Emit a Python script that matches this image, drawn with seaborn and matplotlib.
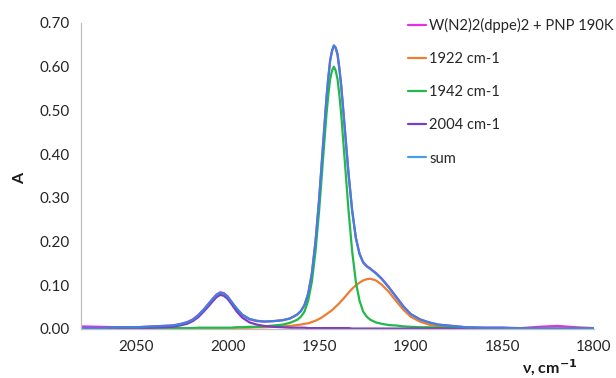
import matplotlib
matplotlib.use("Agg")
import matplotlib.pyplot as plt
import seaborn as sns
import pandas as pd

# wavenumber grid (cm-1)
wavenumber = [2080, 2070, 2060, 2050, 2040, 2035, 2030, 2026, 2022, 2019,
              2016, 2013, 2010, 2008, 2006, 2004, 2002, 2000, 1998, 1995,
              1992, 1988, 1984, 1980, 1975, 1970, 1966, 1962, 1960, 1958,
              1956, 1954, 1952, 1950, 1948, 1947, 1946, 1945, 1944, 1943,
              1942, 1941, 1940, 1939, 1938, 1937, 1936, 1934, 1932, 1930,
              1928, 1926, 1924, 1922, 1919, 1916, 1912, 1908, 1904, 1900,
              1895, 1890, 1885, 1880, 1870, 1860, 1850, 1840, 1830, 1820,
              1810, 1800]

measured = [0.006, 0.005, 0.004, 0.004, 0.006, 0.007, 0.008, 0.011, 0.016, 0.022,
            0.032, 0.045, 0.060, 0.070, 0.079, 0.084, 0.082, 0.075, 0.063, 0.046,
            0.032, 0.022, 0.018, 0.017, 0.018, 0.020, 0.024, 0.033, 0.041, 0.055,
            0.081, 0.127, 0.201, 0.299, 0.415, 0.472, 0.530, 0.576, 0.615, 0.636,
            0.647, 0.643, 0.628, 0.596, 0.557, 0.507, 0.457, 0.356, 0.271, 0.209,
            0.172, 0.153, 0.144, 0.138, 0.128, 0.116, 0.096, 0.074, 0.052, 0.034,
            0.022, 0.015, 0.010, 0.008, 0.004, 0.003, 0.003, 0.002, 0.005, 0.007,
            0.004, 0.002]

peak_1922 = [0.000, 0.000, 0.001, 0.001, 0.001, 0.001, 0.001, 0.001, 0.001, 0.001,
             0.001, 0.001, 0.002, 0.002, 0.002, 0.002, 0.002, 0.002, 0.002, 0.003,
             0.003, 0.003, 0.004, 0.004, 0.005, 0.006, 0.007, 0.009, 0.010, 0.012,
             0.013, 0.016, 0.019, 0.023, 0.028, 0.031, 0.034, 0.037, 0.040, 0.043,
             0.047, 0.051, 0.055, 0.059, 0.064, 0.068, 0.073, 0.083, 0.092, 0.100,
             0.106, 0.111, 0.114, 0.115, 0.111, 0.102, 0.085, 0.064, 0.044, 0.028,
             0.017, 0.010, 0.006, 0.004, 0.002, 0.001, 0.001, 0.000, 0.000, 0.000,
             0.000, 0.000]

peak_1942 = [0.001, 0.001, 0.001, 0.001, 0.002, 0.002, 0.002, 0.002, 0.002, 0.002,
             0.003, 0.003, 0.003, 0.003, 0.003, 0.003, 0.003, 0.003, 0.003, 0.004,
             0.004, 0.005, 0.005, 0.006, 0.008, 0.010, 0.014, 0.021, 0.028, 0.040,
             0.065, 0.108, 0.178, 0.272, 0.383, 0.438, 0.492, 0.536, 0.572, 0.591,
             0.600, 0.591, 0.572, 0.536, 0.492, 0.438, 0.383, 0.272, 0.178, 0.108,
             0.065, 0.040, 0.028, 0.021, 0.015, 0.012, 0.009, 0.008, 0.006, 0.005,
             0.004, 0.004, 0.003, 0.003, 0.002, 0.002, 0.002, 0.001, 0.001, 0.001,
             0.001, 0.001]

peak_2004 = [0.001, 0.001, 0.002, 0.002, 0.003, 0.004, 0.005, 0.008, 0.012, 0.018,
             0.027, 0.040, 0.054, 0.064, 0.073, 0.078, 0.076, 0.069, 0.058, 0.040,
             0.026, 0.015, 0.010, 0.007, 0.005, 0.004, 0.003, 0.003, 0.003, 0.003,
             0.002, 0.002, 0.002, 0.002, 0.002, 0.002, 0.002, 0.002, 0.002, 0.002,
             0.002, 0.002, 0.002, 0.002, 0.002, 0.002, 0.002, 0.002, 0.001, 0.001,
             0.001, 0.001, 0.001, 0.001, 0.001, 0.001, 0.001, 0.001, 0.001, 0.001,
             0.001, 0.001, 0.001, 0.001, 0.000, 0.000, 0.000, 0.000, 0.000, 0.000,
             0.000, 0.000]

series_names = ["W(N2)2(dppe)2 + PNP 190K", "1922 cm-1", "1942 cm-1", "2004 cm-1", "sum"]
series_colors = ["#E62EE6", "#ED7D31", "#22B84A", "#7A3CC0", "#3E82DA"]
legend_colors = ["#E62EE6", "#ED7D31", "#22B84A", "#7A3CC0", "#4A9EE6"]
x_ticks = [2050, 2000, 1950, 1900, 1850, 1800]
y_ticks = [0.0, 0.1, 0.2, 0.3, 0.4, 0.5, 0.6, 0.7]

total = [a + b + c for a, b, c in zip(peak_1922, peak_1942, peak_2004)]

frames = []
for name, vals in zip(series_names, [measured, peak_1922, peak_1942, peak_2004, total]):
    frames.append(pd.DataFrame({"wn": wavenumber, "A": vals, "series": name}))
df = pd.concat(frames, ignore_index=True)

sns.set_style("white")
plt.rcParams["font.family"] = ["Lato", "DejaVu Sans"]

fig = plt.figure(figsize=(6.16, 3.78), dpi=100)
ax = fig.add_axes([81 / 616, 1 - 329 / 378, (594 - 81) / 616, (329 - 23) / 378])

sns.lineplot(data=df, x="wn", y="A", hue="series", hue_order=series_names,
             palette=dict(zip(series_names, series_colors)), linewidth=1.6,
             ax=ax, legend=False, estimator=None)

ax.set_xlim(2080, 1800)
ax.set_ylim(0, 0.70)
ax.set_xticks(x_ticks)
ax.set_xticklabels([str(t) for t in x_ticks])
ax.set_yticks(y_ticks)
ax.set_yticklabels([f"{t:.2f}" for t in y_ticks])
ax.tick_params(axis="both", labelsize=11, colors="#262626", length=4,
               width=0.8, direction="out", pad=4)
ax.tick_params(axis="both", color="#BFBFBF")
for s in ["top", "right"]:
    ax.spines[s].set_visible(False)
for s in ["left", "bottom"]:
    ax.spines[s].set_color("#BFBFBF")
    ax.spines[s].set_linewidth(0.9)

ax.set_xlabel("")
ax.set_ylabel("")
fig.text(20 / 616, 1 - 178 / 378, "A", rotation=90, fontsize=11.5, fontweight="bold",
         ha="center", va="center", color="#1a1a1a")
fig.text(550 / 616, 1 - 368 / 378, r"ν, cm$^{\mathbf{-1}}$", fontsize=11.5,
         fontweight="bold", ha="center", va="center", color="#1a1a1a")

handles = [plt.Line2D([], [], color=c, linewidth=1.6) for c in legend_colors]
ax.legend(handles, series_names, loc="upper left", bbox_to_anchor=(402 / 616, 1 - 12 / 378),
          bbox_transform=fig.transFigure, frameon=False, fontsize=10.6,
          handlelength=1.2, handletextpad=0.25, labelspacing=1.3, borderaxespad=0)

fig.savefig("out.png", dpi=100)
